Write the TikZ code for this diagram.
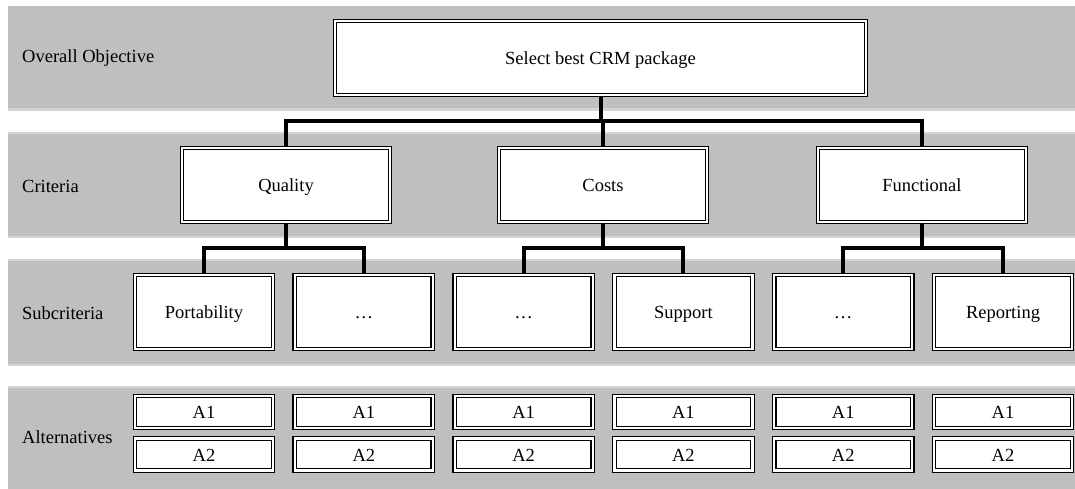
\documentclass[tikz,border=0pt]{standalone}
\usepackage{fontspec}
\setmainfont{Liberation Serif}

\tikzset{
  band/.style={fill=black!25, draw=none},
  bandedge/.style={fill=black!17, draw=none},
  dbox/.style={draw=black, double=white, double distance=2.2pt, line width=1.3pt,
    fill=white, inner sep=0pt, align=center, text height=13pt, text depth=0pt},
  goalbox/.style={dbox, minimum width=531pt, minimum height=74pt},
  critbox/.style={dbox, minimum width=208pt, minimum height=74pt},
  subbox/.style={dbox, minimum width=138pt, minimum height=74pt},
  altbox/.style={dbox, minimum width=138pt, minimum height=32pt},
  level/.style={anchor=west, inner sep=0pt},
  link/.style={line width=4pt, draw=black}
}

\begin{document}
\begin{tikzpicture}[x=1pt, y=-1pt, font=\fontsize{18.5}{22}\selectfont]
  \useasboundingbox (0,0) rectangle (1075,489);
  % grey level bands
  \fill[band] (8,6) rectangle (1075,111);
  \fill[bandedge] (8,108) rectangle (1075,111);
  \fill[band] (8,132) rectangle (1075,238);
  \fill[bandedge] (8,132) rectangle (1075,134);
  \fill[bandedge] (8,236) rectangle (1075,238);
  \fill[band] (8,259) rectangle (1075,366);
  \fill[bandedge] (8,259) rectangle (1075,261);
  \fill[bandedge] (8,364) rectangle (1075,366);
  \fill[band] (8,386) rectangle (1075,489);
  \fill[bandedge] (8,386) rectangle (1075,388);

  % level names
  \node[level] (lgoal) at (22,58) {Overall Objective};
  \node[level] (lcrit) at (22,186) {Criteria};
  \node[level] (lsub) at (22,313) {Subcriteria};
  \node[level] (lalt) at (22,437) {Alternatives};

  % objective and criteria
  \node[goalbox] (goal) at (600.5,58) {Select best CRM package};
  \node[critbox] (quality) at (286,185) {Quality};
  \node[critbox] (costs) at (603,185) {Costs};
  \node[critbox] (functional) at (922,185) {Functional};

  % subcriteria
  \node[subbox] (portability) at (204,312) {Portability};
  \node[subbox] (qother) at (363.8,312) {\dots};
  \node[subbox] (cother) at (523.6,312) {\dots};
  \node[subbox] (support) at (683.4,312) {Support};
  \node[subbox] (fother) at (843.2,312) {\dots};
  \node[subbox] (reporting) at (1003,312) {Reporting};

  % alternatives
  \foreach \i/\x in {1/204, 2/363.8, 3/523.6, 4/683.4, 5/843.2, 6/1003} {
    \node[altbox] (a1-\i) at (\x,412) {A1};
    \node[altbox] (a2-\i) at (\x,454.5) {A2};
  }

  % tree links
  \draw[link] (goal.south) -- ++(0,25) -| (quality.north);
  \draw[link] (goal.south) -- ++(0,25) -| (costs.north);
  \draw[link] (goal.south) -- ++(0,25) -| (functional.north);
  \draw[link] (quality.south) -- ++(0,25) -| (portability.north);
  \draw[link] (quality.south) -- ++(0,25) -| (qother.north);
  \draw[link] (costs.south) -- ++(0,25) -| (cother.north);
  \draw[link] (costs.south) -- ++(0,25) -| (support.north);
  \draw[link] (functional.south) -- ++(0,25) -| (fother.north);
  \draw[link] (functional.south) -- ++(0,25) -| (reporting.north);
\end{tikzpicture}
\end{document}
